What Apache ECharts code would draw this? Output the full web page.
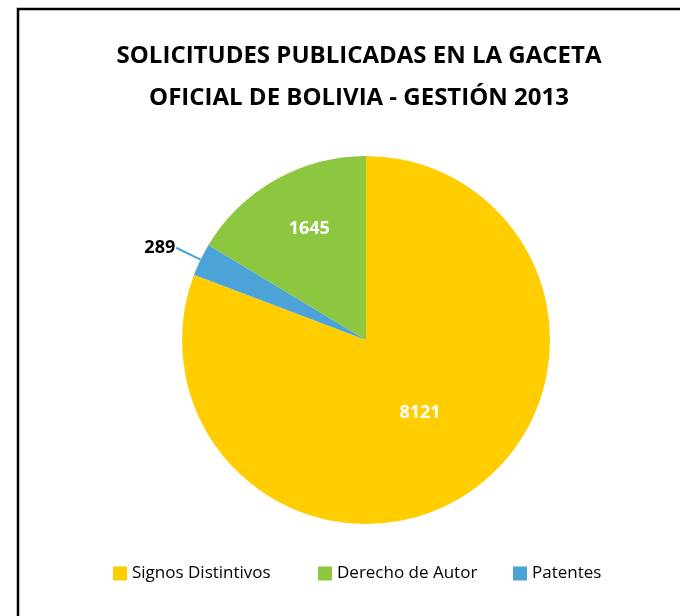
<!DOCTYPE html>
<html>
<head>
<meta charset="utf-8">
<title>Solicitudes publicadas en la Gaceta Oficial de Bolivia - 2013</title>
<script src="https://cdn.jsdelivr.net/npm/echarts@6/dist/echarts.min.js"></script>
<style>
  html, body { margin: 0; padding: 0; background: #fff; }
  #chart { width: 680px; height: 616px; }
</style>
</head>
<body>
<div id="chart"></div>
<script>
// Data (pie order, clockwise from the top)
const categories = ["Signos Distintivos", "Patentes", "Derecho de Autor"];
const values = [8121, 289, 1645];
const colors = ["#FFCD00", "#4BA3D8", "#8DC63F"];
// Legend order as in the picture
const legendOrder = ["Signos Distintivos", "Derecho de Autor", "Patentes"];
const legendLeft = [108, 313, 508];

const chart = echarts.init(document.getElementById("chart"));

const fontFamily = "'Open Sans', 'DejaVu Sans', sans-serif";

const pieData = categories.map((name, i) => {
  const item = { name: name, value: values[i], itemStyle: { color: colors[i] } };
  if (name === "Patentes") {
    item.label = {
      position: "outside",
      color: "#000",
      alignTo: "none",
    };
    item.labelLine = {
      show: true,
      length: 27,
      length2: 0,
      lineStyle: { color: colors[i], width: 2 },
    };
  } else {
    item.label = { position: "inside", color: "#fff" };
    item.labelLine = { show: false };
  }
  return item;
});

const option = {
  animation: false,
  title: {
    text: "SOLICITUDES PUBLICADAS EN LA GACETA\nOFICIAL DE BOLIVIA - GESTIÓN 2013",
    left: 354,
    textAlign: "center",
    top: 30,
    textStyle: {
      fontFamily: fontFamily,
      fontWeight: "bold",
      fontSize: 24,
      lineHeight: 42,
      color: "#000",
    },
  },
  legend: legendOrder.map((name, i) => ({
    data: [name],
    left: legendLeft[i],
    top: 560,
    icon: "rect",
    itemWidth: 14,
    itemHeight: 14,
    itemGap: 8,
    selectedMode: false,
    textStyle: { fontFamily: fontFamily, fontSize: 17, color: "#000" },
  })),
  graphic: [
    {
      type: "rect",
      shape: { x: 18, y: 9, width: 900, height: 900 },
      style: { fill: "none", stroke: "#000", lineWidth: 2.5 },
      silent: true,
    },
  ],
  series: [
    {
      type: "pie",
      center: [366, 340],
      radius: 184,
      startAngle: 90,
      clockwise: true,
      data: pieData,
      label: {
        show: true,
        formatter: "{c}",
        fontFamily: fontFamily,
        fontWeight: "bold",
        fontSize: 18,
      },
      labelLayout: function (params) {
        if (params.dataIndex === 2) {
          return { dx: -10, dy: -28 };
        }
        if (params.dataIndex === 1) {
          return { dx: 4, dy: 0 };
        }
        return { dy: -5 };
      },
      emphasis: { disabled: true },
    },
  ],
};

chart.setOption(option);
</script>
</body>
</html>
